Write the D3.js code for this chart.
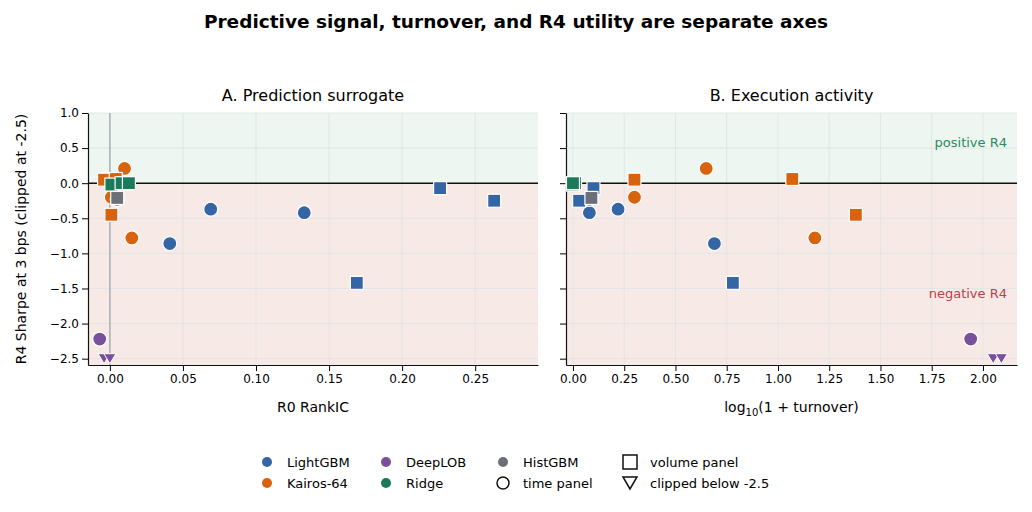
<!DOCTYPE html>
<html><head><meta charset="utf-8">
<script src="https://cdn.jsdelivr.net/npm/d3@7"></script>
<style>body{margin:0;background:#fff;font-family:"DejaVu Sans",sans-serif}</style>
</head><body><svg id="c" width="1032" height="512"></svg>
<script>
// one row per run
const models   = ['LightGBM','LightGBM','LightGBM','LightGBM','LightGBM','LightGBM',
                  'Kairos-64','Kairos-64','Kairos-64','Kairos-64','Kairos-64','Kairos-64',
                  'DeepLOB','DeepLOB','DeepLOB',
                  'Ridge','Ridge','Ridge','Ridge',
                  'HistGBM','HistGBM'];
const panels   = ['time','time','time','volume','volume','volume',
                  'time','time','time','volume','volume','volume',
                  'time','volume','volume',
                  'volume','volume','volume','time',
                  'volume','time'];
const rankIC   = [0.041,0.069,0.133,0.169,0.226,0.263,
                  0.010,0.001,0.015,-0.004,0.004,0.001,
                  -0.007,-0.004,0.000,
                  0.001,0.008,0.013,0.002,
                  0.005,0.005];
const turnover = [0.69,0.22,0.08,0.78,0.10,0.03,
                  0.65,0.30,1.18,0.30,1.07,1.38,
                  1.94,2.05,2.09,
                  0.00,0.01,0.00,0.00,
                  0.09,0.08];
const sharpe   = [-0.86,-0.37,-0.42,-1.42,-0.07,-0.25,
                  0.21,-0.20,-0.78,0.05,0.06,-0.45,
                  -2.22,-3.1,-2.9,
                  -0.02,0.00,0.00,0.00,
                  -0.21,-0.23];
const colors = {'LightGBM':'#3466a5','Kairos-64':'#d8630f','DeepLOB':'#7a4f9c','Ridge':'#1b7a5a','HistGBM':'#6b7078'};
const CLIP = -2.5;
const rows = models.map((m,i)=>({m, p:panels[i], ic:rankIC[i], to:turnover[i], s:Math.max(sharpe[i],CLIP), clip:sharpe[i]<CLIP}));
// time-panel circles underneath, volume squares on top
rows.sort((a,b)=>(a.p==='time'?0:1)-(b.p==='time'?0:1));

const svg = d3.select('#c');
svg.append('text').attr('x',516).attr('y',28).attr('text-anchor','middle')
  .attr('font-size',18.5).attr('font-weight','bold').text('Predictive signal, turnover, and R4 utility are separate axes');

const y = d3.scaleLinear().domain([-2.59,1.0]).range([365,113]);

function panel(x0,x1,xDom,ticks,fmt,key,title,xlab,first){
  const x = d3.scaleLinear().domain(xDom).range([x0,x1]);
  const g = svg.append('g');
  g.append('rect').attr('x',x0).attr('y',y(1)).attr('width',x1-x0).attr('height',y(0)-y(1)).attr('fill','#edf6f0');
  g.append('rect').attr('x',x0).attr('y',y(0)).attr('width',x1-x0).attr('height',y(-2.59)-y(0)).attr('fill','#f7eae6');
  g.selectAll('.gx').data(ticks).enter().append('line').attr('x1',d=>x(d)).attr('x2',d=>x(d)).attr('y1',113).attr('y2',365).attr('stroke','#dde3e6').attr('stroke-width',0.8);
  g.selectAll('.gy').data(d3.range(-2.5,1.01,0.5)).enter().append('line').attr('y1',d=>y(d)).attr('y2',d=>y(d)).attr('x1',x0).attr('x2',x1).attr('stroke','#dde3e6').attr('stroke-width',0.8);
  if(first) g.append('line').attr('x1',x(0)).attr('x2',x(0)).attr('y1',113).attr('y2',365).attr('stroke','#9aa0a6').attr('stroke-width',1.2);
  g.append('line').attr('x1',x0).attr('x2',x1).attr('y1',y(0)).attr('y2',y(0)).attr('stroke','#111').attr('stroke-width',1.6);
  const ax = g.append('g').attr('transform',`translate(0,365)`).call(d3.axisBottom(x).tickValues(ticks).tickFormat(fmt).tickSizeOuter(0));
  ax.selectAll('text').attr('font-size',12).attr('font-family','DejaVu Sans');
  const ay = g.append('g').attr('transform',`translate(${x0},0)`).call(d3.axisLeft(y).tickValues(d3.range(-2.5,1.01,0.5)).tickFormat(first?(d=>d.toFixed(1).replace('-','−')):'').tickSizeOuter(0));
  ay.selectAll('text').attr('font-size',12).attr('font-family','DejaVu Sans');
  [ax,ay].forEach(a=>a.select('.domain').attr('stroke','#111').attr('stroke-width',1.2));
  g.append('text').attr('x',(x0+x1)/2).attr('y',101).attr('text-anchor','middle').attr('font-size',16).text(title);
  xlab(g.append('text').attr('x',(x0+x1)/2).attr('y',412).attr('text-anchor','middle').attr('font-size',14));
  const pts = g.append('g');
  rows.forEach(r=>{
    const cx=x(r[key]), cy=y(r.s), col=colors[r.m];
    if(r.clip) pts.append('path').attr('d',`M${cx-6},${cy-5}L${cx+6},${cy-5}L${cx},${cy+5}Z`).attr('fill',col).attr('stroke','#fff').attr('stroke-width',1);
    else if(r.p==='volume') pts.append('rect').attr('x',cx-6.5).attr('y',cy-6.5).attr('width',13).attr('height',13).attr('fill',col).attr('stroke','#fff').attr('stroke-width',1.2);
    else pts.append('circle').attr('cx',cx).attr('cy',cy).attr('r',7).attr('fill',col).attr('stroke','#fff').attr('stroke-width',1.2);
  });
  return g;
}

panel(88,538,[-0.015,0.293],[0,0.05,0.1,0.15,0.2,0.25],d3.format('.2f'),'ic','A. Prediction surrogate',t=>t.text('R0 RankIC'),true);
const gB = panel(566,1017,[-0.034,2.166],d3.range(0,2.01,0.25),d3.format('.2f'),'to','B. Execution activity',
  t=>{t.text('log');t.append('tspan').attr('font-size',10).attr('dy',4).text('10');t.append('tspan').attr('dy',-4).text('(1 + turnover)');},false);
gB.append('text').attr('x',1007).attr('y',147).attr('text-anchor','end').attr('font-size',13).attr('fill','#2a8a62').text('positive R4');
gB.append('text').attr('x',1007).attr('y',298).attr('text-anchor','end').attr('font-size',13).attr('fill','#b8404e').text('negative R4');

svg.append('text').attr('transform','translate(26,239) rotate(-90)').attr('text-anchor','middle').attr('font-size',14).text('R4 Sharpe at 3 bps (clipped at -2.5)');

// legend
const leg = svg.append('g').attr('font-size',13);
const items = [
  {x:267,y:462,t:'LightGBM',c:colors['LightGBM'],k:'dot'},{x:267,y:483,t:'Kairos-64',c:colors['Kairos-64'],k:'dot'},
  {x:386,y:462,t:'DeepLOB',c:colors['DeepLOB'],k:'dot'},{x:386,y:483,t:'Ridge',c:colors['Ridge'],k:'dot'},
  {x:503,y:462,t:'HistGBM',c:colors['HistGBM'],k:'dot'},{x:503,y:483,t:'time panel',k:'circle'},
  {x:630,y:462,t:'volume panel',k:'square'},{x:630,y:483,t:'clipped below -2.5',k:'tri'}];
items.forEach(d=>{
  if(d.k==='dot') leg.append('circle').attr('cx',d.x).attr('cy',d.y).attr('r',5).attr('fill',d.c);
  else if(d.k==='circle') leg.append('circle').attr('cx',d.x).attr('cy',d.y).attr('r',6).attr('fill','none').attr('stroke','#111').attr('stroke-width',1.5);
  else if(d.k==='square') leg.append('rect').attr('x',d.x-7).attr('y',d.y-7).attr('width',14).attr('height',14).attr('fill','none').attr('stroke','#111').attr('stroke-width',1.5);
  else leg.append('path').attr('d',`M${d.x-7},${d.y-6}L${d.x+7},${d.y-6}L${d.x},${d.y+6}Z`).attr('fill','none').attr('stroke','#111').attr('stroke-width',1.5);
  leg.append('text').attr('x',d.x+20).attr('y',d.y+5).text(d.t);
});
</script></body></html>
